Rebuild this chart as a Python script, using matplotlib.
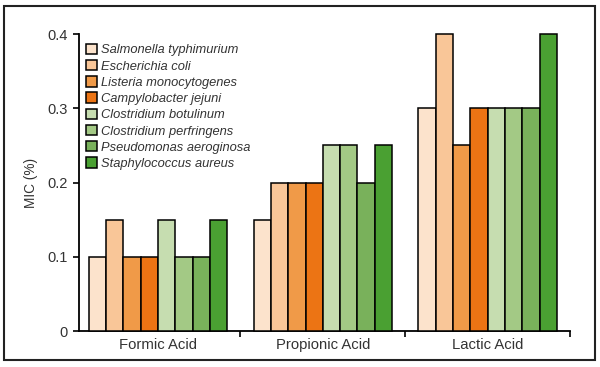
import matplotlib
matplotlib.use("Agg")
import matplotlib.pyplot as plt
from matplotlib.patches import Rectangle
import numpy as np

acids = ["Formic Acid", "Propionic Acid", "Lactic Acid"]
organisms = ["Salmonella typhimurium", "Escherichia coli", "Listeria monocytogenes",
             "Campylobacter jejuni", "Clostridium botulinum", "Clostridium perfringens",
             "Pseudomonas aeroginosa", "Staphylococcus aureus"]
values = {
    "Salmonella typhimurium": [0.10, 0.15, 0.30],
    "Escherichia coli": [0.15, 0.20, 0.40],
    "Listeria monocytogenes": [0.10, 0.20, 0.25],
    "Campylobacter jejuni": [0.10, 0.20, 0.30],
    "Clostridium botulinum": [0.15, 0.25, 0.30],
    "Clostridium perfringens": [0.10, 0.25, 0.30],
    "Pseudomonas aeroginosa": [0.10, 0.20, 0.30],
    "Staphylococcus aureus": [0.15, 0.25, 0.40],
}
colors = ["#FCE3CC", "#F9C698", "#F09A48", "#EC7414",
          "#C6DDB0", "#A3C985", "#79B15B", "#4AA032"]
yticks = [0, 0.1, 0.2, 0.3, 0.4]
ytick_labels = ["0", "0.1", "0.2", "0.3", "0.4"]

plt.rcParams['font.family'] = ['Liberation Sans', 'DejaVu Sans']
txt = "#333333"

fig = plt.figure(figsize=(6.0, 3.67), dpi=100)
ax = fig.add_axes([79 / 600, 0.098, 491 / 600, 0.809])

bw = 0.105
centers = np.arange(len(acids)) + 0.5
for i, org in enumerate(organisms):
    x = centers + (i - (len(organisms) - 1) / 2) * bw
    ax.bar(x, values[org], width=bw, color=colors[i], edgecolor="black",
           linewidth=1.1, label=org, clip_on=False, zorder=3)

ax.set_xlim(0.02, len(acids))
ax.set_ylim(0, 0.4)
ax.set_yticks(yticks)
ax.set_yticklabels(ytick_labels, color=txt, fontsize=10.5)
ax.set_xticks([1, 2, 3])
ax.set_xticklabels([])
ax.set_xticks(centers, minor=True)
ax.set_xticklabels(acids, minor=True, color=txt, fontsize=10.7)
ax.tick_params(axis="x", which="minor", length=0, pad=5)
ax.tick_params(axis="x", which="major", length=4, width=1.2, direction="out")
ax.tick_params(axis="y", length=4, width=1.2, direction="out", pad=4)
for s in ["top", "right"]:
    ax.spines[s].set_visible(False)
for s in ["left", "bottom"]:
    ax.spines[s].set_linewidth(1.3)
ax.set_ylabel("MIC (%)", color=txt, fontsize=9.8, labelpad=7)

leg = ax.legend(loc="upper left", bbox_to_anchor=(0.003, 0.985), frameon=False,
                prop={"style": "italic", "size": 9.3}, handlelength=0.85,
                handleheight=0.85, handletextpad=0.35, labelspacing=0.28,
                borderaxespad=0.0)
for t in leg.get_texts():
    t.set_color(txt)

fig.patches.append(Rectangle((0.007, 0.018), 0.985, 0.967, transform=fig.transFigure,
                             fill=False, edgecolor="#222222", linewidth=1.5))

fig.savefig("out.png", dpi=100)
